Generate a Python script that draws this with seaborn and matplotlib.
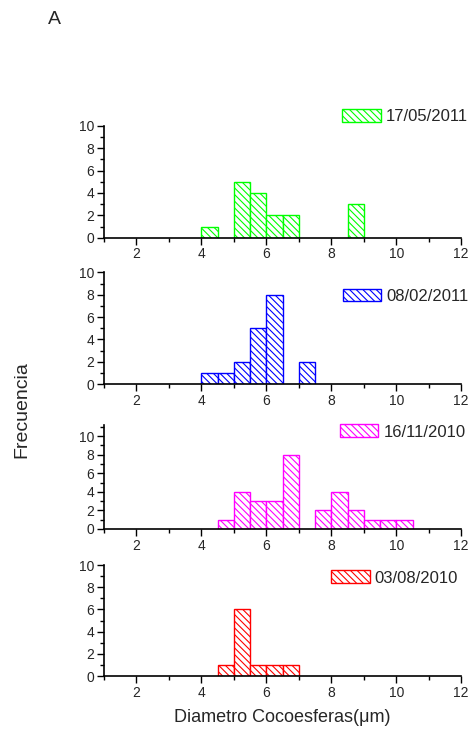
import numpy as np
import pandas as pd
import matplotlib
matplotlib.use("Agg")
import matplotlib.pyplot as plt
from matplotlib.patches import Patch
from matplotlib.ticker import MultipleLocator
import seaborn as sns

# ---- data (bin left edges, bin width 0.5 um) ----
labels = ["17/05/2011", "08/02/2011", "16/11/2010", "03/08/2010"]
colors = ["#00ff00", "#0000ff", "#ff00ff", "#ff0000"]

edges_1 = [4.0, 5.0, 5.5, 6.0, 6.5, 8.5]
counts_1 = [1, 5, 4, 2, 2, 3]

edges_2 = [4.0, 4.5, 5.0, 5.5, 6.0, 7.0]
counts_2 = [1, 1, 2, 5, 8, 2]

edges_3 = [4.5, 5.0, 5.5, 6.0, 6.5, 7.5, 8.0, 8.5, 9.0, 9.5, 10.0]
counts_3 = [1, 4, 3, 3, 8, 2, 4, 2, 1, 1, 1]

edges_4 = [4.5, 5.0, 5.5, 6.0, 6.5]
counts_4 = [1, 6, 1, 1, 1]

binwidth = 0.5
all_edges = [edges_1, edges_2, edges_3, edges_4]
all_counts = [counts_1, counts_2, counts_3, counts_4]
ytops = [10, 10, 11.2, 10]

sns.set_style("ticks")
plt.rcParams["font.family"] = ["Liberation Sans", "DejaVu Sans"]
plt.rcParams["hatch.linewidth"] = 0.8

fig = plt.figure(figsize=(4.75, 7.36), dpi=100)

# axes boxes in figure fraction [left, bottom, width, height]
boxes = [
    [0.219, 0.677, 0.752, 0.152],
    [0.219, 0.478, 0.752, 0.152],
    [0.219, 0.2813, 0.752, 0.1413],
    [0.219, 0.0815, 0.752, 0.1508],
]
leg_pos = [(0.667, 1.08), (0.669, 0.786), (0.661, 0.933), (0.636, 0.883)]

hatch = "\\\\\\\\\\"

for i in range(4):
    ax = fig.add_axes(boxes[i])
    df = pd.DataFrame({"x": np.array(all_edges[i]) + binwidth / 2,
                       "w": all_counts[i]})
    sns.histplot(data=df, x="x", weights="w", binwidth=binwidth,
                 binrange=(min(all_edges[i]), max(all_edges[i]) + binwidth),
                 ax=ax, color=colors[i], alpha=1, linewidth=1.0)
    for p in list(ax.patches):
        if p.get_height() <= 0:
            p.remove()
            continue
        p.set_facecolor("white")
        p.set_edgecolor(colors[i])
        p.set_hatch(hatch)
        p.set_linewidth(1.0)
    ax.set_xlim(1, 12)
    ax.set_ylim(0, ytops[i])
    ax.set_xlabel("")
    ax.set_ylabel("")
    ax.xaxis.set_major_locator(MultipleLocator(2))
    ax.xaxis.set_minor_locator(MultipleLocator(1))
    ax.set_yticks([0, 2, 4, 6, 8, 10])
    ax.yaxis.set_minor_locator(MultipleLocator(1))
    ax.tick_params(which="major", direction="out", length=5, width=1.0,
                   labelsize=10, color="black", pad=2)
    ax.tick_params(which="minor", direction="out", length=3, width=1.0,
                   color="black")
    for s in ["top", "right"]:
        ax.spines[s].set_visible(False)
    for s in ["left", "bottom"]:
        ax.spines[s].set_linewidth(1.2)
        ax.spines[s].set_color("black")
    handle = Patch(facecolor="white", edgecolor=colors[i], hatch=hatch,
                   linewidth=1.0)
    ax.legend([handle], [labels[i]], loc="center left",
              bbox_to_anchor=leg_pos[i], frameon=False, fontsize=12,
              handlelength=2.3, handleheight=0.8, handletextpad=0.3,
              borderpad=0, borderaxespad=0)

fig.text(48 / 475, 1 - 20 / 736, "A", fontsize=14, ha="left", va="center")
fig.text(22 / 475, 1 - 410 / 736, "Frecuencia", fontsize=14, rotation=90,
         ha="center", va="center")
fig.text(282 / 475, 1 - 718 / 736, "Diametro Cocoesferas(\u03bcm)",
         fontsize=13, ha="center", va="center")

fig.savefig("out.png", dpi=100)
